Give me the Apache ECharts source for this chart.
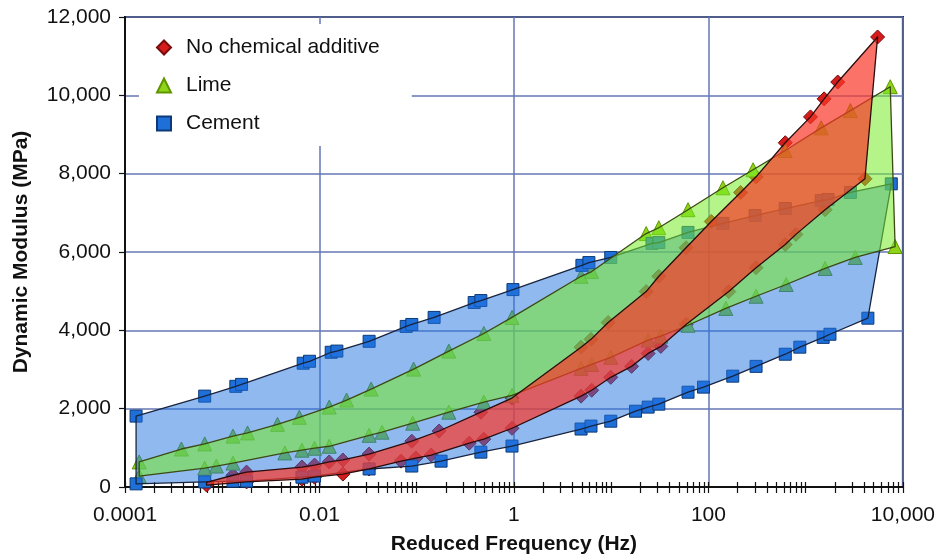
<!DOCTYPE html>
<html>
<head>
<meta charset="utf-8">
<title>Dynamic Modulus master curves</title>
<script src="https://cdn.jsdelivr.net/npm/echarts@6/dist/echarts.min.js"></script>
<style>
  html, body { margin: 0; padding: 0; background: #fff; }
  #chart { width: 938px; height: 560px; }
</style>
</head>
<body>
<div id="chart"></div>
<script>
// Master-curve envelopes: [reduced frequency (Hz), dynamic modulus (MPa)]
const cementUpper = [
  [0.00013, 1810], [0.00066, 2320], [0.00138, 2570], [0.00158, 2620], [0.0068, 3160],
  [0.0079, 3210], [0.0132, 3440], [0.0151, 3470], [0.0324, 3720], [0.078, 4100],
  [0.089, 4150], [0.151, 4330], [0.39, 4710], [0.457, 4760], [0.977, 5040],
  [5.0, 5660], [5.9, 5730], [9.9, 5860], [26.3, 6220], [30.9, 6240], [61.7, 6500],
  [141, 6730], [302, 6930], [617, 7110], [1445, 7310], [1698, 7340], [2884, 7520], [7600, 7740]
];
const cementLower = [
  [0.00013, 80], [0.00066, 130], [0.00129, 150], [0.00178, 150], [0.0066, 250],
  [0.0089, 280], [0.0324, 460], [0.089, 535], [0.178, 660], [0.457, 890], [0.955, 1045],
  [4.9, 1480], [6.2, 1555], [9.9, 1680], [17.8, 1935], [24, 2040], [30.9, 2115],
  [61.7, 2420], [89, 2550], [178, 2830], [309, 3080], [617, 3390], [871, 3570],
  [1514, 3820], [1778, 3900], [4365, 4310]
];
const limeUpper = [
  [0.00014, 640], [0.00038, 970], [0.00066, 1100], [0.00129, 1300], [0.00182, 1380],
  [0.0037, 1600], [0.0062, 1780], [0.0126, 2040], [0.019, 2220], [0.034, 2500],
  [0.093, 3010], [0.214, 3470], [0.49, 3920], [0.955, 4330], [4.9, 5380], [6.3, 5500],
  [22.9, 6470], [30.9, 6620], [61.7, 7080], [141, 7640], [288, 8100], [617, 8590],
  [1445, 9170], [2884, 9610], [7413, 10220]
];
const limeLower = [
  [0.00014, 280], [0.00066, 480], [0.00087, 535], [0.00129, 610], [0.0044, 870],
  [0.0066, 940], [0.0089, 990], [0.0126, 1040], [0.0324, 1320], [0.044, 1400],
  [0.091, 1630], [0.214, 1910], [0.49, 2170], [0.955, 2340], [4.9, 3030], [6.3, 3130],
  [9.9, 3310], [24, 3750], [32.4, 3850], [61.7, 4130], [151, 4560], [309, 4870],
  [631, 5170], [1585, 5580], [3236, 5860], [8318, 6140]
];
const plainUpper = [
  [0.00069, 120], [0.00129, 300], [0.00178, 380], [0.0066, 510], [0.0089, 560],
  [0.0126, 640], [0.0174, 690], [0.0324, 840], [0.089, 1170], [0.17, 1430],
  [0.457, 1910], [0.955, 2270], [4.9, 3570], [6.2, 3770], [9.3, 4200], [22.9, 4990],
  [30.9, 5380], [58.9, 6110], [107, 6780], [214, 7520], [309, 7920], [617, 8790],
  [1122, 9450], [1549, 9910], [2138, 10340], [5495, 11490]
];
const plainLower = [
  [0.00069, 50], [0.00178, 130], [0.0066, 200], [0.0089, 250], [0.0174, 330],
  [0.0324, 460], [0.069, 660], [0.098, 740], [0.141, 815], [0.347, 1120], [0.49, 1220],
  [0.955, 1500], [4.9, 2320], [6.3, 2470], [9.9, 2800], [16.2, 3080], [24, 3410],
  [32.4, 3590], [58.9, 4150], [162, 4990], [309, 5600], [617, 6190], [794, 6450],
  [1585, 7080], [4074, 7870]
];

// Axis ticks
const xTickHz = [0.0001, 0.01, 1, 100, 10000];
const xTickLabels = ['0.0001', '0.01', '1', '100', '10,000'];
const yTickValues = [0, 2000, 4000, 6000, 8000, 10000, 12000];

const FONT = '"Liberation Sans", Arial, Helvetica, sans-serif';
const INK = '#111111';
const GRID_BLUE = '#6677b5';

const toLog = p => [Math.log10(p[0]), p[1]];

// minor log ticks (1..9 per decade) placed on the exponent axis
const minorTicks = [];
for (let n = -4; n < 4; n++) {
  for (let k = 1; k <= 9; k++) minorTicks.push(Math.log10(k * Math.pow(10, n)));
}
minorTicks.push(4);

function bandSeries(name, upper, lower, fill, stroke, z) {
  const ring = upper.concat(lower.slice().reverse()).map(toLog);
  return {
    type: 'custom',
    name: name + ' envelope',
    coordinateSystem: 'cartesian2d',
    xAxisIndex: 0,
    yAxisIndex: 0,
    z: z,
    silent: true,
    data: ring,
    encode: { x: 0, y: 1 },
    renderItem: function (params, api) {
      if (params.dataIndex !== 0) return null;
      return {
        type: 'polygon',
        shape: { points: ring.map(p => api.coord(p)) },
        style: { fill: fill, stroke: stroke, lineWidth: 1.3, lineJoin: 'round' }
      };
    }
  };
}

function markerSeries(name, upper, lower, symbol, size, color, border) {
  return {
    type: 'scatter',
    name: name,
    xAxisIndex: 0,
    yAxisIndex: 0,
    z: 1,
    symbol: symbol,
    symbolSize: size,
    itemStyle: { color: color, borderColor: border, borderWidth: 1, opacity: 1 },
    data: upper.concat(lower).map(toLog)
  };
}

const chart = echarts.init(document.getElementById('chart'), null, { renderer: 'canvas' });

const xLabelFormatter = function (v) {
  const i = xTickHz.findIndex(h => Math.abs(Math.log10(h) - v) < 1e-6);
  return i >= 0 ? xTickLabels[i] : '';
};

chart.setOption({
  animation: false,
  backgroundColor: '#ffffff',
  textStyle: { fontFamily: FONT },
  grid: {
    left: 125, right: 33, top: 17, bottom: 72,
    show: true, borderColor: INK, borderWidth: 2, backgroundColor: 'transparent'
  },
  legend: {
    data: ['No chemical additive', 'Lime', 'Cement'],
    orient: 'vertical',
    left: 139,
    top: 24,
    z: 10,
    backgroundColor: '#ffffff',
    padding: [13, 32, 12, 17],
    itemWidth: 14,
    itemHeight: 14,
    itemGap: 17,
    selectedMode: false,
    textStyle: { fontSize: 21, color: INK, fontFamily: FONT, padding: [0, 0, 0, 10] }
  },
  xAxis: [
    {
      type: 'value',
      position: 'bottom',
      min: -4, max: 4, interval: 2,
      name: 'Reduced Frequency (Hz)',
      nameLocation: 'middle',
      nameGap: 47,
      nameTextStyle: { fontSize: 21, fontWeight: 'bold', color: INK, fontFamily: FONT },
      axisLine: { show: true, onZero: false, lineStyle: { color: INK, width: 2 } },
      axisTick: { show: false },
      axisLabel: { formatter: xLabelFormatter, fontSize: 21, color: INK, margin: 18, fontFamily: FONT },
      splitLine: { show: true, lineStyle: { color: GRID_BLUE, width: 1.5 } }
    },
    {
      // log minor ticks below the axis line
      type: 'value', position: 'bottom', min: -4, max: 4,
      axisLine: { show: false, onZero: false },
      axisLabel: { show: false },
      splitLine: { show: false },
      axisTick: { show: true, inside: false, length: 6, customValues: minorTicks, lineStyle: { color: INK, width: 1.2 } }
    },
    {
      // same ticks above the axis line
      type: 'value', position: 'bottom', min: -4, max: 4,
      axisLine: { show: false, onZero: false },
      axisLabel: { show: false },
      splitLine: { show: false },
      axisTick: { show: true, inside: true, length: 5, customValues: minorTicks, lineStyle: { color: INK, width: 1.2 } }
    }
  ],
  yAxis: {
    type: 'value',
    min: yTickValues[0],
    max: yTickValues[yTickValues.length - 1],
    interval: yTickValues[1] - yTickValues[0],
    name: 'Dynamic Modulus (MPa)',
    nameLocation: 'middle',
    nameGap: 93,
    nameTextStyle: { fontSize: 21, fontWeight: 'bold', color: INK, fontFamily: FONT },
    axisLine: { show: true, onZero: false, lineStyle: { color: INK, width: 2 } },
    axisTick: { show: true, length: 6, lineStyle: { color: INK, width: 1.2 } },
    axisLabel: {
      fontSize: 21, color: INK, margin: 14, fontFamily: FONT,
      formatter: v => v.toLocaleString('en-US')
    },
    splitLine: { show: true, lineStyle: { color: GRID_BLUE, width: 1.5 } }
  },
  series: [
    markerSeries('No chemical additive', plainUpper, plainLower, 'diamond', 14, '#d41c1c', '#7a0a0a'),
    markerSeries('Lime', limeUpper, limeLower, 'triangle', 14, '#8fd41a', '#5e9600'),
    markerSeries('Cement', cementUpper, cementLower, 'rect', 12, '#1f6fd8', '#0c3a78'),
    bandSeries('Cement', cementUpper, cementLower, 'rgba(33,115,225,0.5)', '#18243f', 2),
    bandSeries('Lime', limeUpper, limeLower, 'rgba(120,235,40,0.55)', '#3b4a12', 3),
    bandSeries('No chemical additive', plainUpper, plainLower, 'rgba(250,55,40,0.7)', '#2a0c0c', 4)
  ]
});
</script>
</body>
</html>
